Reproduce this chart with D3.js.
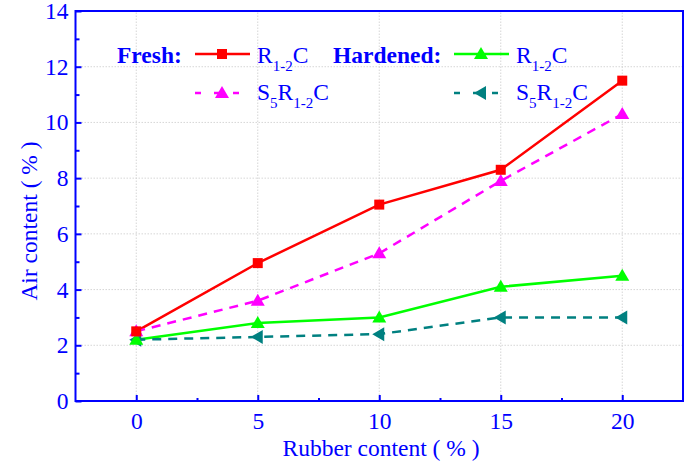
<!DOCTYPE html>
<html><head><meta charset="utf-8">
<script src="https://cdn.jsdelivr.net/npm/d3@7"></script>
<style>body{margin:0;background:#fff}svg{display:block}text{font-family:"Liberation Serif","Times New Roman",serif}</style>
</head><body><svg id="c" width="685" height="461"></svg>
<script>
const xValues = [0, 5, 10, 15, 20];
const freshR = [2.5, 4.95, 7.05, 8.3, 11.5];
const freshS = [2.5, 3.6, 5.3, 7.9, 10.3];
const hardR = [2.2, 2.8, 3.0, 4.1, 4.5];
const hardS = [2.2, 2.3, 2.4, 3.0, 3.0];
const yTicks = [0, 2, 4, 6, 8, 10, 12, 14];
const xTicks = [0, 5, 10, 15, 20];

const svg = d3.select("#c");
const blue = "#0000ff";
const FS = "23.5px";
const x = d3.scaleLinear().domain([-2.5, 22.5]).range([75.5, 683]);
const y = d3.scaleLinear().domain([0, 14]).range([401, 11]);

// grid
const g = svg.append("g");
g.selectAll(".gx").data(xTicks).enter().append("line")
  .attr("x1", d => x(d)).attr("x2", d => x(d)).attr("y1", y(0)).attr("y2", y(14))
  .attr("stroke", "#cccccc").attr("stroke-width", 0.8).attr("stroke-dasharray", "1.5,1.5");
g.selectAll(".gy").data(yTicks.slice(1, -1)).enter().append("line")
  .attr("y1", d => y(d)).attr("y2", d => y(d)).attr("x1", x(-2.5)).attr("x2", x(22.5))
  .attr("stroke", "#cccccc").attr("stroke-width", 0.8).attr("stroke-dasharray", "1.5,1.5");

// axes
const xAxis = d3.axisBottom(x).tickValues(xTicks).tickSize(-6).tickPadding(11).tickFormat(d3.format("d"));
const xMinor = d3.axisBottom(x).tickValues([2.5, 7.5, 12.5, 17.5]).tickSize(-3).tickFormat("");
const yAxis = d3.axisLeft(y).tickValues(yTicks).tickSize(-6).tickPadding(7).tickFormat(d3.format("d"));
const yMinor = d3.axisLeft(y).tickValues([1, 3, 5, 7, 9, 11, 13]).tickSize(-4).tickFormat("");

function styleAxis(sel) {
  sel.select(".domain").remove();
  sel.selectAll("line").attr("stroke", blue).attr("stroke-width", 2);
  sel.selectAll("text").attr("fill", blue).style("font-size", FS).style("font-family", "Liberation Serif");
}
svg.append("g").attr("transform", `translate(0,${y(0)})`).call(xAxis).call(styleAxis);
svg.append("g").attr("transform", `translate(0,${y(0)})`).call(xMinor).call(styleAxis);
svg.append("g").attr("transform", `translate(${x(-2.5)},0)`).call(yAxis).call(styleAxis);
svg.append("g").attr("transform", `translate(${x(-2.5)},0)`).call(yMinor).call(styleAxis);

svg.append("rect").attr("x", x(-2.5)).attr("y", y(14)).attr("width", x(22.5) - x(-2.5)).attr("height", y(0) - y(14))
  .attr("fill", "none").attr("stroke", blue).attr("stroke-width", 2);

// titles
svg.append("text").attr("x", 381).attr("y", 456).attr("text-anchor", "middle").attr("fill", blue)
  .style("font-size", FS).text("Rubber content ( % )");
svg.append("text").attr("transform", "translate(37,221) rotate(-90)").attr("text-anchor", "middle").attr("fill", blue)
  .style("font-size", FS).text("Air content ( % )");

// series
const series = [
  {vals: freshR, color: "#ff0000", dash: null, marker: "square"},
  {vals: freshS, color: "#ff00ff", dash: "9,7", marker: "triUp"},
  {vals: hardR, color: "#00ff00", dash: null, marker: "triUp"},
  {vals: hardS, color: "#008080", dash: "9,7", marker: "triLeft"}
];
const line = d3.line().x((d, i) => x(xValues[i])).y(d => y(d));
function marker(sel, type, color, cx, cy) {
  if (type === "square") {
    sel.append("rect").attr("x", cx - 5).attr("y", cy - 5).attr("width", 10).attr("height", 10).attr("fill", color);
  } else if (type === "triUp") {
    sel.append("path").attr("d", `M${cx},${cy - 7}L${cx + 7},${cy + 5}L${cx - 7},${cy + 5}Z`).attr("fill", color);
  } else {
    sel.append("path").attr("d", `M${cx - 7},${cy}L${cx + 5},${cy - 7}L${cx + 5},${cy + 7}Z`).attr("fill", color);
  }
}
series.forEach(s => {
  svg.append("path").datum(s.vals).attr("d", line).attr("fill", "none").attr("stroke", s.color)
    .attr("stroke-width", 2.5).attr("stroke-dasharray", s.dash);
});
series.slice().reverse().forEach(s => {
  const mg = svg.append("g");
  s.vals.forEach((v, i) => marker(mg, s.marker, s.color, x(xValues[i]), y(v)));
});

// legend
const lg = svg.append("g");
lg.append("text").attr("x", 117).attr("y", 63).attr("fill", blue).style("font-size", FS).style("font-weight", "bold").text("Fresh:");
lg.append("text").attr("x", 333).attr("y", 63).attr("fill", blue).style("font-size", FS).style("font-weight", "bold").text("Hardened:");
const legItems = [
  {s: series[0], lx: 195, ly: 54, ty: 63, label: ["R", "1-2", "C"]},
  {s: series[1], lx: 195, ly: 93, ty: 100, label: ["S", "5", "R", "1-2", "C"]},
  {s: series[2], lx: 454, ly: 54, ty: 63, label: ["R", "1-2", "C"]},
  {s: series[3], lx: 454, ly: 93, ty: 100, label: ["S", "5", "R", "1-2", "C"]}
];
legItems.forEach(it => {
  lg.append("line").attr("x1", it.lx).attr("x2", it.lx + 55).attr("y1", it.ly).attr("y2", it.ly)
    .attr("stroke", it.s.color).attr("stroke-width", 2.5).attr("stroke-dasharray", it.s.dash ? "6,13" : null);
  marker(lg, it.s.marker, it.s.color, it.lx + 27, it.ly);
  const t = lg.append("text").attr("x", it.lx + 62).attr("y", it.ty).attr("fill", blue).style("font-size", FS);
  let sub = false;
  it.label.forEach(part => {
    const isSub = /^[0-9]/.test(part);
    t.append("tspan").attr("dy", isSub && !sub ? 8 : (!isSub && sub ? -8 : 0))
      .style("font-size", isSub ? "15px" : FS).text(part);
    sub = isSub;
  });
});
</script></body></html>
